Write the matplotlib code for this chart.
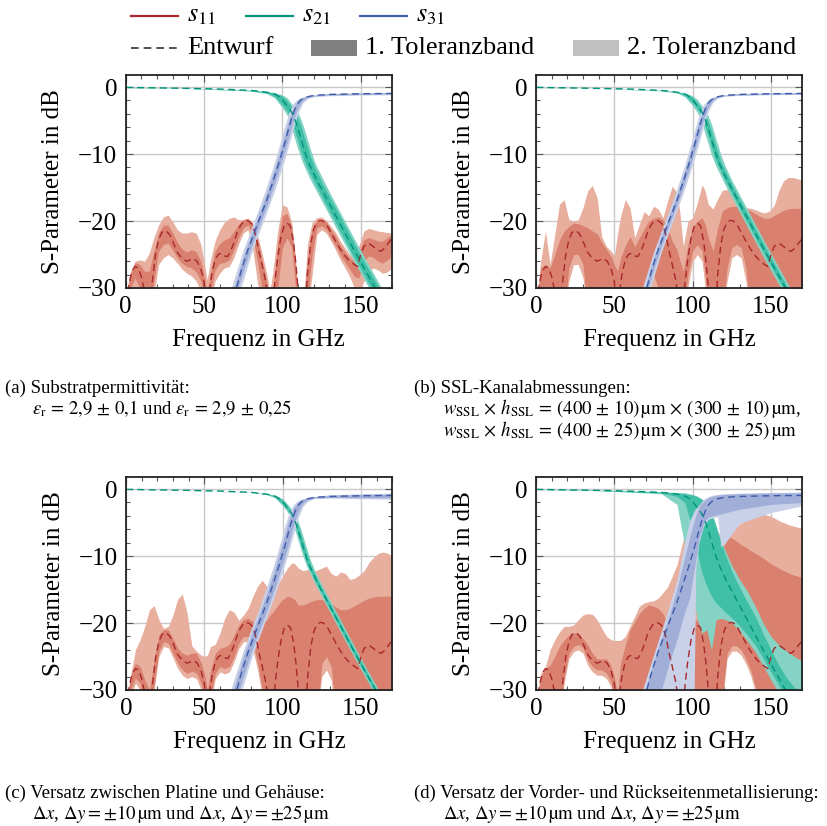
import matplotlib
matplotlib.use("Agg")
import matplotlib.pyplot as plt
from matplotlib.lines import Line2D
from matplotlib.patches import Rectangle
from matplotlib.ticker import MultipleLocator

plt.rcParams['font.family'] = ['Liberation Serif', 'DejaVu Serif']
plt.rcParams['mathtext.fontset'] = 'stix'

# ---------------- data ----------------
# design curves (Entwurf), identical in all four panels
F11_DESIGN = [0, 2, 4, 6, 8, 10, 12, 13.5, 15.5, 17, 19, 21, 23, 25.5, 28, 30.5, 33, 36, 39, 41, 43,
              45.5, 48, 50, 51.5, 53, 55, 57, 59, 61, 63, 65, 67, 69, 71, 73, 75, 77, 79, 81, 83, 85,
              87, 89, 91, 92.5, 94, 95.5, 97, 99, 101, 103, 105, 107, 108.5, 110, 111.5, 114.5, 116,
              118, 120, 122, 124, 126, 128, 131, 134, 137, 140, 143, 146, 148, 150, 152, 155, 158,
              161, 163, 165.5, 168, 170]
S11_DESIGN = [-34, -29.5, -27.5, -26.8, -27, -28.3, -30.5, -34, -34, -29, -25, -22.8, -21.7, -21.4, -22,
              -23.3, -24.7, -25.6, -26, -25.8, -25.6, -26, -27.2, -29, -33, -31, -27.8, -25.8, -25,
              -24.8, -25.2, -25.3, -24.5, -23.3, -21.8, -20.8, -20.1, -19.9, -20.1, -20.6, -22.2,
              -24.5, -26.5, -28.6, -31.5, -34, -32, -28.5, -25.5, -22.5, -20.8, -20.3, -20.7, -23,
              -26, -30, -34, -34, -28, -23.5, -21.2, -20.2, -19.9, -20, -20.4, -21.7, -23, -24.2,
              -25.2, -26, -26.5, -26.8, -25, -23.8, -23.3, -23.8, -24.4, -24.5, -24, -23.2, -22.6]

F21_DESIGN = [0, 20, 40, 60, 80, 88, 92, 95, 97, 99, 100, 101, 103, 105, 107, 109, 111, 113, 115, 117,
              119, 122, 125, 130, 135, 140, 145, 150, 155, 160, 165, 170]
S21_DESIGN = [-0.05, -0.12, -0.2, -0.3, -0.5, -0.7, -0.85, -1.05, -1.3, -1.6, -1.85, -2.2, -2.8, -3.4,
              -4.2, -5.5, -7.0, -8.6, -10.1, -11.4, -12.4, -13.9, -15.2, -17.4, -19.6, -21.8, -24.0,
              -26.1, -28.2, -30.3, -32.4, -34.5]

F31_DESIGN = [60, 65, 70, 74, 78, 82, 86, 90, 94, 98, 100, 102, 104, 106, 108, 110, 112, 115, 120, 130,
              150, 170]
S31_DESIGN = [-38, -34.2, -30.6, -27.2, -24.3, -21.8, -19.3, -16.9, -14.1, -11.2, -9.6, -8.0, -6.2, -4.6,
              -3.3, -2.4, -1.9, -1.5, -1.25, -1.1, -1.0, -0.95]

# tolerance bands of s11 (upper / lower edge of the 1. and 2. Toleranzband)
G11 = [0, 3, 6, 9, 12, 15, 18, 21, 24, 27, 30, 33, 36, 39, 42, 45, 48, 50, 52, 54, 57, 60, 63, 66, 69,
       72, 75, 78, 81, 84, 87, 90, 92, 94, 97, 100, 103, 106, 108, 110, 113, 116, 119, 122, 125, 128,
       131, 134, 137, 140, 143, 146, 149, 152, 155, 158, 161, 164, 167, 170]

A_S11_B2_UP = [-31, -27.5, -26, -25.8, -26, -24.8, -22.5, -20.6, -19.4, -19.1, -20.1, -21.3, -21.8, -21.8,
               -21.6, -21.8, -23.5, -26, -28.8, -26, -23, -21.3, -20.2, -19.6, -19.4, -19.8, -19.8,
               -19.6, -20.3, -22, -24.8, -27.8, -30.5, -27.5, -21.5, -17.6, -17.9, -20.3, -24.8, -30.5,
               -34, -23.5, -20.2, -19.5, -19.4, -19.9, -20.8, -21.7, -23, -24, -25, -25.5, -23.6, -21.5,
               -21.1, -21.3, -21.5, -21.6, -21.7, -21.8]
A_S11_B1_UP = [-32, -28, -26.2, -26.5, -27.5, -27.5, -24.5, -21.8, -20.6, -20.6, -21.8, -23.2, -24.2,
               -24.6, -24.3, -24.6, -26, -28, -31, -28, -24.5, -23.4, -22.8, -22.5, -21.6, -20.5, -19.8,
               -19.6, -20.3, -22.5, -25.7, -29, -32, -30, -23.5, -19.2, -18.9, -20.8, -25, -30.5, -34,
               -25.5, -21.2, -19.9, -19.7, -20.1, -21.2, -22.3, -23.6, -24.6, -25.5, -26, -24.5, -22.8,
               -22.5, -22.7, -23, -23, -22.5, -22]
A_S11_B1_LO = [-34, -30, -28.5, -30, -33, -34, -29, -24.5, -23.5, -23.3, -24.3, -25.5, -26.3, -26.8, -27,
               -27.6, -29, -31, -34, -31, -27.3, -26.3, -26.2, -25.8, -24.4, -22.5, -21, -20.6, -22, -26,
               -30, -34, -34, -34, -30, -24, -22.5, -24, -29, -34, -34, -32, -25, -21, -20.7, -21.2,
               -22.5, -23.7, -25, -26.2, -27.2, -28.3, -28.5, -26, -25.2, -25.4, -26, -26.3, -25.8, -25.2]
A_S11_B2_LO = [-34, -33, -32, -33, -34, -34, -31, -26.5, -25.5, -25, -25.5, -26.3, -27.2, -27.8, -28.2,
               -29, -30.5, -32, -34, -32, -29, -27.8, -27, -26.8, -25.5, -23.5, -21.8, -21.3, -24, -29,
               -33, -34, -34, -34, -34, -31, -31, -31, -34, -34, -34, -34, -28, -22, -21.3, -21.8, -23,
               -24.3, -25.8, -27, -28.3, -30, -31, -29, -27.5, -27, -27.3, -27.8, -27.6, -27]

B_S11_B2_UP = [-33, -26, -21.5, -26.5, -22, -17.5, -16.8, -19.8, -20, -19.8, -18, -15.5, -14.7, -16.5,
               -22.4, -23.8, -24.5, -25.2, -22, -19.3, -16.8, -18, -22.5, -20.5, -18.6, -19.2, -17.8,
               -18.2, -19.5, -17, -14.8, -15.8, -19, -23.8, -20, -19.5, -17.3, -14.6, -15.5, -17.5,
               -18.2, -16.7, -15.4, -15.3, -15.8, -16.8, -17.8, -18, -18.1, -18.3, -18.6, -18.8, -18.5,
               -17.7, -15.5, -14, -13.5, -13.5, -13.7, -13.9]
B_S11_B1_UP = [-33, -27, -26.5, -27, -25, -22.8, -21.5, -20.8, -20.3, -20.4, -20.7, -21, -21.5, -21.9,
               -23.2, -24.2, -25.3, -26.5, -27.5, -25.5, -23.7, -22.3, -23.8, -22.5, -21.2, -20, -19.6,
               -19.4, -19.8, -21, -23, -24.3, -26, -27.5, -23.5, -21, -20, -19.5, -20.5, -22.5, -24.5,
               -21, -18.5, -18, -17.8, -17.8, -17.9, -18.2, -18.5, -18.9, -19.3, -19.6, -19.6, -19.2,
               -18.8, -18.4, -18.2, -18.1, -18.1, -18.1]
B_S11_B1_LO = [-34, -34, -34, -34, -34, -34, -34, -27, -25, -25, -26.5, -34, -34, -34, -34, -34, -34, -34,
               -34, -34, -34, -34, -34, -34, -34, -30, -28, -30, -34, -34, -34, -34, -34, -34, -28,
               -24.5, -23.5, -24.5, -28, -34, -34, -34, -34, -27, -24, -23.5, -24, -27, -34, -34, -34,
               -34, -34, -34, -34, -34, -34, -34, -34, -34]
B_S11_B2_LO = [-34, -34, -34, -34, -34, -34, -34, -29, -26.5, -26.5, -28.5, -34, -34, -34, -34, -34, -34,
               -34, -34, -34, -34, -34, -34, -34, -34, -32, -30, -32, -34, -34, -34, -34, -34, -34, -30,
               -26, -25, -26, -30, -34, -34, -34, -34, -29, -25.5, -25, -25.5, -29, -34, -34, -34, -34,
               -34, -34, -34, -34, -34, -34, -34, -34]

C_S11_B2_UP = [-32, -27.8, -24, -22.5, -20.5, -18, -17.4, -19.5, -20.8, -20.5, -18.8, -16.4, -15.7,
               -18.5, -23.4, -24.2, -24.8, -25, -24.8, -23.5, -23.2, -21.5, -19.3, -18, -18.4, -19.6,
               -18.8, -17.8, -16, -14.5, -13.6, -14.6, -15.8, -16.2, -14.2, -13, -11.8, -11, -11.2,
               -11.8, -12.2, -12, -12.4, -12.1, -11.8, -11.5, -12.6, -13, -12.4, -12.6, -13.5, -13.3,
               -12.8, -12.2, -11, -10.2, -9.6, -9.4, -9.6, -10]
C_S11_B1_UP = [-33, -27.8, -26, -26.5, -28.5, -30, -25.5, -21.8, -21, -21, -22.3, -23.8, -24.5, -24.8,
               -24.5, -24.5, -26, -27.5, -30, -27, -24.5, -23.8, -23.6, -23.2, -21.8, -20.3, -19.5,
               -19.3, -19.8, -20.5, -20.2, -19.5, -18.8, -18.3, -17.3, -16.5, -16, -16.2, -16.6, -17.3,
               -17.3, -17, -16.7, -16.5, -16.5, -16.7, -17.1, -17.6, -18, -18, -17.8, -17.4, -17, -16.6,
               -16.3, -16.1, -16, -16, -16, -16]
C_S11_B1_LO = [-34, -30, -28.2, -29, -33, -34, -29, -24.2, -22.8, -23, -24.5, -26, -27, -27.5, -27.2,
               -27.5, -29, -31, -34, -31, -27.5, -26.5, -26.8, -26.5, -25, -23, -22, -22, -23, -26, -30,
               -34, -34, -34, -34, -34, -34, -34, -34, -34, -34, -34, -34, -34, -26, -25, -26.5, -34,
               -34, -34, -34, -34, -34, -34, -34, -34, -34, -34, -34, -34]
C_S11_B2_LO = [-34, -31, -29, -30, -34, -34, -30, -25, -23.5, -23.7, -25.2, -26.8, -27.8, -28.3, -28,
               -28.3, -30, -32, -34, -32, -28.3, -27.3, -27.6, -27.3, -25.8, -23.8, -22.8, -22.8, -24,
               -27, -31, -34, -34, -34, -34, -34, -34, -34, -34, -34, -34, -34, -34, -34, -28, -27,
               -28.5, -34, -34, -34, -34, -34, -34, -34, -34, -34, -34, -34, -34, -34]

D_S11_B2_UP = [-32, -27.5, -26.5, -24, -22.5, -21.3, -20.5, -20.5, -20.3, -19.5, -18.8, -18.6, -18.7,
               -19.5, -20.8, -22, -22.5, -22.6, -22.6, -22.6, -22, -20.5, -19, -17.5, -17, -16.8, -16.7,
               -16.3, -15.5, -14.6, -13, -11.3, -9.5, -7.5, -4.5, -4, -4, -4.5, -5, -5.5, -6, -6.5,
               -6.8, -6.8, -6.3, -5.6, -5, -4.7, -4.3, -4, -3.8, -3.8, -4, -4.3, -4.7, -5, -5.3, -5.5,
               -5.7, -5.8]
D_S11_B1_UP = [-33, -28, -26.8, -26.3, -25, -23.5, -22.5, -21.8, -21.5, -21.5, -22.3, -23.3, -24.5,
               -25.3, -25.4, -25.3, -26.5, -28, -31, -26, -23.3, -21, -19.8, -18.6, -17.8, -17.3, -17.5,
               -17.8, -18.6, -20, -22, -25, -27, -25, -22, -20, -19.5, -19.5, -20, -21, -21, -14, -9,
               -7.2, -7.3, -7.8, -8.3, -8.7, -9.2, -9.6, -10, -10.5, -11, -11.4, -11.8, -12.2, -12.5,
               -12.8, -13, -13.2]
D_S11_B1_LO = [-34, -34, -34, -34, -34, -34, -28, -24.5, -23.5, -23.2, -23.7, -25.5, -26.5, -27, -27,
               -27.5, -28.8, -34, -34, -34, -34, -34, -34, -34, -34, -34, -34, -34, -34, -34, -34, -34,
               -34, -34, -34, -34, -34, -34, -34, -34, -34, -34, -31, -24.5, -23.4, -23.4, -24, -25.3,
               -27, -29.5, -34, -34, -34, -34, -34, -34, -34, -34, -34, -34]
D_S11_B2_LO = [-34, -34, -34, -34, -34, -34, -29, -25.3, -24.3, -24, -24.5, -26.3, -27.3, -27.8, -27.8,
               -28.3, -29.6, -34, -34, -34, -34, -34, -34, -34, -34, -34, -34, -34, -34, -34, -34, -34,
               -34, -34, -34, -34, -34, -34, -34, -34, -34, -34, -32, -25.3, -24.2, -24.2, -24.8, -26.1,
               -27.8, -30.3, -34, -34, -34, -34, -34, -34, -34, -34, -34, -34]

# tolerance bands of s21
G21 = [0, 40, 80, 90, 95, 100, 103, 106, 109, 112, 115, 118, 121, 125, 130, 135, 140, 145, 150, 155,
       160, 165, 170]
A_S21_B2_UP = [-0.03, -0.18, -0.47, -0.65, -0.8, -1.17, -1.6, -2.5, -3.4, -4.85, -7.0, -9.35, -11.4,
               -13.3, -15.65, -17.85, -20.05, -22.25, -24.4, -26.5, -28.6, -30.7, -32.8]
A_S21_B2_LO = [-0.08, -0.22, -0.6, -1.0, -1.6, -3.1, -4.2, -6.25, -8.6, -10.75, -12.4, -13.9, -15.2,
               -16.95, -19.15, -21.35, -23.55, -25.7, -27.8, -29.9, -32.0, -34.1, -36.2]
A_S21_B1_UP = [-0.04, -0.19, -0.49, -0.7, -0.9, -1.35, -2.0, -2.95, -4.0, -5.9, -8.2, -10.4, -12.15,
               -14.1, -16.3, -18.5, -20.7, -22.9, -25.1, -27.15, -29.25, -31.35, -33.45]
A_S21_B1_LO = [-0.07, -0.21, -0.56, -0.85, -1.37, -2.65, -3.6, -5.2, -7.4, -9.7, -11.65, -13.1, -14.5,
               -16.3, -18.5, -20.7, -22.9, -25.1, -27.15, -29.25, -31.35, -33.45, -35.5]

B_S21_B2_UP = [-0.03, -0.19, -0.48, -0.68, -0.85, -1.3, -1.85, -2.8, -3.8, -5.5, -7.8, -10.1, -11.9,
               -13.9, -16.1, -18.3, -20.5, -22.7, -24.85, -26.95, -29.05, -31.15, -33.25]
B_S21_B2_LO = [-0.07, -0.21, -0.58, -0.9, -1.45, -2.8, -3.8, -5.5, -7.8, -10.1, -11.9, -13.3, -14.75,
               -16.5, -18.7, -20.9, -23.1, -25.3, -27.4, -29.5, -31.6, -33.7, -35.8]
B_S21_B1_UP = [-0.05, -0.2, -0.5, -0.74, -0.95, -1.52, -2.35, -3.25, -4.5, -6.6, -8.95, -11.1, -12.6,
               -14.5, -16.7, -18.9, -21.1, -23.3, -25.45, -27.55, -29.65, -31.75, -33.85]
B_S21_B1_LO = [-0.06, -0.2, -0.53, -0.8, -1.23, -2.35, -3.25, -4.5, -6.6, -8.95, -11.1, -12.6, -14.1,
               -15.9, -18.1, -20.3, -22.5, -24.65, -26.75, -28.85, -30.9, -33.0, -35.1]

C_S21_B2_UP = [-0.04, -0.19, -0.49, -0.7, -0.9, -1.45, -2.2, -3.1, -4.2, -6.25, -8.6, -10.75, -12.4,
               -14.3, -16.5, -18.7, -20.9, -23.1, -25.3, -27.4, -29.45, -31.6, -33.7]
C_S21_B2_LO = [-0.06, -0.21, -0.52, -0.85, -1.3, -2.5, -3.4, -4.85, -7.0, -9.35, -11.4, -12.85, -14.3,
               -16.1, -18.3, -20.5, -22.7, -24.85, -26.95, -29.05, -31.15, -33.25, -35.3]
C_S21_B1_UP = [-0.05, -0.2, -0.5, -0.74, -0.97, -1.6, -2.5, -3.4, -4.85, -7.0, -9.35, -11.4, -12.85,
               -14.75, -16.95, -19.15, -21.35, -23.55, -25.7, -27.8, -29.9, -32.0, -34.1]
C_S21_B1_LO = [-0.05, -0.2, -0.51, -0.8, -1.17, -2.2, -3.1, -4.2, -6.25, -8.6, -10.75, -12.4, -13.9,
               -15.65, -17.85, -20.05, -22.25, -24.4, -26.5, -28.6, -30.7, -32.8, -34.9]

D_S21_B2_UP = [-0.03, -0.15, -0.4, -0.5, -0.55, -0.8, -1.05, -1.45, -2.2, -3.5, -5.5, -7.7, -9.3, -11.4,
               -13.5, -15.3, -17.5, -20.0, -22.0, -23.3, -24.2, -25.0, -25.7]
D_S21_B2_LO = [-0.07, -0.25, -0.7, -2.3, -8.5, -15.5, -19.5, -21.5, -21.0, -24.0, -19.5, -19.3, -19.5,
               -20.0, -21.2, -22.7, -24.3, -26.4, -28.5, -30.5, -32.5, -34.5, -36.5]
D_S21_B1_UP = [-0.05, -0.18, -0.45, -0.6, -0.7, -0.9, -1.15, -1.6, -2.3, -3.6, -5.7, -7.9, -9.9, -12.3,
               -14.7, -16.9, -19.0, -21.6, -24.0, -26.3, -28.2, -29.6, -30.5]
D_S21_B1_LO = [-0.06, -0.22, -0.6, -1.1, -2.0, -6.0, -9.5, -12.5, -14.5, -16.0, -17.0, -17.7, -18.4,
               -19.2, -20.4, -21.8, -23.3, -25.3, -27.3, -29.3, -31.5, -33.5, -35.5]

# tolerance bands of s31
G31 = [60, 65, 70, 75, 80, 85, 90, 95, 98, 101, 104, 107, 110, 113, 116, 120, 130, 150, 170]
A_S31_B2_UP = [-35.8, -31.7, -28.0, -24.3, -21.2, -18.1, -14.8, -11.2, -8.8, -6.2, -3.9, -2.4, -1.75,
               -1.45, -1.3, -1.15, -0.95, -0.85, -0.8]
A_S31_B2_LO = [-40.5, -36.5, -32.4, -28.9, -25.0, -21.8, -18.7, -15.5, -13.4, -11.2, -8.8, -6.2, -3.9,
               -2.4, -1.75, -1.45, -1.3, -1.2, -1.15]
A_S31_B1_UP = [-36.9, -32.85, -29.3, -25.35, -22.1, -19.0, -15.85, -12.25, -10.0, -7.55, -5.0, -3.1,
               -2.0, -1.6, -1.38, -1.22, -1.0, -0.9, -0.85]
A_S31_B1_LO = [-39.2, -35.3, -31.3, -27.6, -24.0, -20.85, -17.8, -14.45, -12.25, -10.0, -7.55, -5.0,
               -3.05, -2.0, -1.55, -1.32, -1.2, -1.1, -1.05]

B_S31_B2_UP = [-36.1, -32.05, -28.45, -24.65, -21.5, -18.4, -15.15, -11.55, -9.2, -6.65, -4.25, -2.6,
               -1.83, -1.48, -1.32, -1.18, -0.95, -0.85, -0.8]
B_S31_B2_LO = [-40.0, -36.1, -32.05, -28.45, -24.65, -21.5, -18.4, -15.15, -13.0, -10.8, -8.4, -5.8,
               -3.6, -2.25, -1.68, -1.38, -1.25, -1.15, -1.1]
B_S31_B1_UP = [-37.1, -33.2, -29.6, -25.6, -22.3, -19.2, -16.05, -12.45, -10.2, -7.8, -5.25, -3.2,
               -2.05, -1.58, -1.39, -1.2, -1.0, -0.9, -0.85]
B_S31_B1_LO = [-38.9, -35.1, -31.4, -27.35, -23.8, -20.65, -17.6, -14.25, -12.05, -9.75, -7.3, -4.75,
               -2.95, -1.95, -1.52, -1.31, -1.18, -1.08, -1.03]

C_S31_B2_UP = [-35.3, -31.3, -27.6, -24.0, -20.85, -17.8, -14.45, -10.8, -8.4, -5.8, -3.6, -2.25, -1.68,
               -1.43, -1.28, -1.1, -0.85, -0.7, -0.6]
C_S31_B2_LO = [-41.0, -36.9, -32.8, -29.25, -25.35, -22.1, -19.0, -15.85, -13.75, -11.55, -9.2, -6.65,
               -4.25, -2.6, -1.83, -1.43, -1.35, -1.45, -1.5]
C_S31_B1_UP = [-36.5, -32.4, -28.9, -25.0, -21.8, -18.7, -15.5, -11.9, -9.6, -7.1, -4.6, -2.8, -1.9,
               -1.5, -1.35, -1.18, -0.95, -0.8, -0.75]
C_S31_B1_LO = [-39.6, -35.8, -31.7, -28.0, -24.3, -21.2, -18.1, -14.8, -12.6, -10.4, -8.0, -5.4, -3.3,
               -2.1, -1.6, -1.35, -1.25, -1.3, -1.3]

G31_D = [60, 65, 70, 75, 80, 85, 90, 95, 98, 101, 102, 104, 107, 110, 113, 116, 118, 120, 130, 150, 170]
D_S31_B2_UP = [-36.0, -32.0, -28.5, -24.8, -21.2, -17.5, -13.5, -7.8, -4.8, -3.2, -2.9, -2.4, -1.5,
               -1.1, -0.9, -0.8, -0.75, -0.7, -0.6, -0.5, -0.45]
D_S31_B2_LO = [-50.0, -47.0, -44.0, -40.0, -36.0, -34.5, -33.0, -32.0, -31.0, -30.0, -12.0, -8.0,
               -5.5, -4.5, -4.3, -4.1, -8.6, -8.3, -5.1, -3.5, -2.5]
D_S31_B1_UP = [-37.0, -33.2, -29.8, -25.8, -22.3, -19.0, -14.9, -10.1, -7.3, -4.7, -4.0, -2.7, -1.8,
               -1.3, -1.05, -0.9, -0.85, -0.8, -0.7, -0.6, -0.55]
D_S31_B1_LO = [-48.0, -45.0, -41.0, -37.0, -30.0, -26.0, -22.5, -18.3, -16.3, -12.0, -10.5, -7.5,
               -5.0, -4.2, -4.0, -3.8, -3.7, -3.6, -3.0, -2.3, -2.0]

CAPTIONS = {
    'a': ["(a) Substratpermittivität:",
          r"$\varepsilon_\mathrm{r} \,=\, 2{,}9 \,\pm\, 0{,}1$ und "
          r"$\varepsilon_\mathrm{r} \,=\, 2{,}9 \,\pm\, 0{,}25$"],
    'b': ["(b) SSL-Kanalabmessungen:",
          r"$w_\mathrm{SSL} \,\times\, h_\mathrm{SSL} \,=\, (400 \,\pm\, 10)\,\mathrm{µm} \,\times\, "
          r"(300 \,\pm\, 10)\,\mathrm{µm}$,",
          r"$w_\mathrm{SSL} \,\times\, h_\mathrm{SSL} \,=\, (400 \,\pm\, 25)\,\mathrm{µm} \,\times\, "
          r"(300 \,\pm\, 25)\,\mathrm{µm}$"],
    'c': ["(c) Versatz zwischen Platine und Gehäuse:",
          r"$\Delta x$, $\Delta y = \pm 10\,\mathrm{µm}$ und $\Delta x$, $\Delta y = \pm 25\,\mathrm{µm}$"],
    'd': ["(d) Versatz der Vorder- und Rückseitenmetallisierung:",
          r"$\Delta x$, $\Delta y = \pm 10\,\mathrm{µm}$ und $\Delta x$, $\Delta y = \pm 25\,\mathrm{µm}$"],
}

# ---------------- styles ----------------
COL = {
    's11': dict(line='#a8282c', b1='#d9806e', b2='#e8ae9e'),
    's21': dict(line='#00927a', b1='#3fbfa6', b2='#84d3c4'),
    's31': dict(line='#3f5cab', b1='#a0aed8', b2='#c8d1e8'),
}
DASH = (0, (5.0, 3.2))
W, H = 828, 826
FS = 18


def fx(x):
    return x / W


def fy(y):
    return 1 - y / H


def band(ax, f, b2, b1, c):
    ax.fill_between(f, b2[0], b2[1], color=c['b2'], lw=0)
    ax.fill_between(f, b1[0], b1[1], color=c['b1'], lw=0)


def draw_panel(ax, s11, s21, s31, g31):
    band(ax, G11, (s11[3], s11[0]), (s11[2], s11[1]), COL['s11'])
    band(ax, G21, (s21[1], s21[0]), (s21[3], s21[2]), COL['s21'])
    band(ax, g31, (s31[1], s31[0]), (s31[3], s31[2]), COL['s31'])
    ax.plot(F11_DESIGN, S11_DESIGN, color=COL['s11']['line'], lw=1.0, ls=DASH)
    ax.plot(F21_DESIGN, S21_DESIGN, color=COL['s21']['line'], lw=1.0, ls=DASH)
    ax.plot(F31_DESIGN, S31_DESIGN, color=COL['s31']['line'], lw=1.0, ls=DASH)

    ax.set_xlim(0, 170)
    ax.set_ylim(-30, 1.8)
    ax.xaxis.set_major_locator(MultipleLocator(50))
    ax.xaxis.set_minor_locator(MultipleLocator(10))
    ax.yaxis.set_major_locator(MultipleLocator(10))
    ax.yaxis.set_minor_locator(MultipleLocator(2))
    ax.set_axisbelow(True)
    ax.grid(True, which='major', color='#c8c8c8', lw=1.0)
    ax.tick_params(which='both', direction='in', top=True, right=True, color='#555555',
                   labelsize=FS, width=0.8)
    ax.tick_params(which='major', length=5, pad=6)
    ax.tick_params(which='minor', length=3)
    for sp in ax.spines.values():
        sp.set_linewidth(1.3)
        sp.set_color('#222222')
        sp.set_zorder(5)
    ax.set_xlabel('Frequenz in GHz', fontsize=FS, labelpad=8)
    ax.set_ylabel('S-Parameter in dB', fontsize=FS, labelpad=10)


fig = plt.figure(figsize=(W / 100, H / 100), dpi=100)

panels = [
    ('a', 125.7, 288, (A_S11_B2_UP, A_S11_B1_UP, A_S11_B1_LO, A_S11_B2_LO),
     (A_S21_B2_UP, A_S21_B2_LO, A_S21_B1_UP, A_S21_B1_LO),
     (A_S31_B2_UP, A_S31_B2_LO, A_S31_B1_UP, A_S31_B1_LO), G31),
    ('b', 536, 288, (B_S11_B2_UP, B_S11_B1_UP, B_S11_B1_LO, B_S11_B2_LO),
     (B_S21_B2_UP, B_S21_B2_LO, B_S21_B1_UP, B_S21_B1_LO),
     (B_S31_B2_UP, B_S31_B2_LO, B_S31_B1_UP, B_S31_B1_LO), G31),
    ('c', 126, 690, (C_S11_B2_UP, C_S11_B1_UP, C_S11_B1_LO, C_S11_B2_LO),
     (C_S21_B2_UP, C_S21_B2_LO, C_S21_B1_UP, C_S21_B1_LO),
     (C_S31_B2_UP, C_S31_B2_LO, C_S31_B1_UP, C_S31_B1_LO), G31),
    ('d', 536, 690, (D_S11_B2_UP, D_S11_B1_UP, D_S11_B1_LO, D_S11_B2_LO),
     (D_S21_B2_UP, D_S21_B2_LO, D_S21_B1_UP, D_S21_B1_LO),
     (D_S31_B2_UP, D_S31_B2_LO, D_S31_B1_UP, D_S31_B1_LO), G31_D),
]

for key, left, bottom, s11, s21, s31, g31 in panels:
    ax = fig.add_axes([fx(left), fy(bottom), 266.3 / W, 213 / H])
    draw_panel(ax, s11, s21, s31, g31)

# captions
cap_pos = {'a': (5, 32, 388), 'b': (414, 443, 388), 'c': (5, 32, 793), 'd': (414, 443, 793)}
for key, lines in CAPTIONS.items():
    x0, x1, y0 = cap_pos[key]
    for i, txt in enumerate(lines):
        fig.text(fx(x0 if i == 0 else x1), fy(y0 + 21 * i), txt, fontsize=13.5,
                 ha='left', va='center')

# legend drawn by hand at the top
LEG = 19
for name, x in (('s11', 131), ('s21', 246), ('s31', 360)):
    fig.add_artist(Line2D([fx(x), fx(x + 47)], [fy(16), fy(16)], color=COL[name]['line'], lw=1.6))
    fig.text(fx(x + 56), fy(16), r'$s_{%s}$' % name[1:], fontsize=LEG, ha='left', va='center')

fig.add_artist(Line2D([fx(131), fx(178)], [fy(48), fy(48)], color='#333333', lw=1.2,
                      ls=(0, (4.6, 3.0))))
fig.text(fx(187), fy(48), 'Entwurf', fontsize=LEG, ha='left', va='center')
fig.add_artist(Rectangle((fx(311), fy(56)), 46 / W, 16 / H, color='#808080', lw=0))
fig.text(fx(365), fy(48), '1. Toleranzband', fontsize=LEG, ha='left', va='center')
fig.add_artist(Rectangle((fx(573), fy(56)), 46 / W, 16 / H, color='#c0c0c0', lw=0))
fig.text(fx(627), fy(48), '2. Toleranzband', fontsize=LEG, ha='left', va='center')

fig.savefig('out.png', dpi=100)
